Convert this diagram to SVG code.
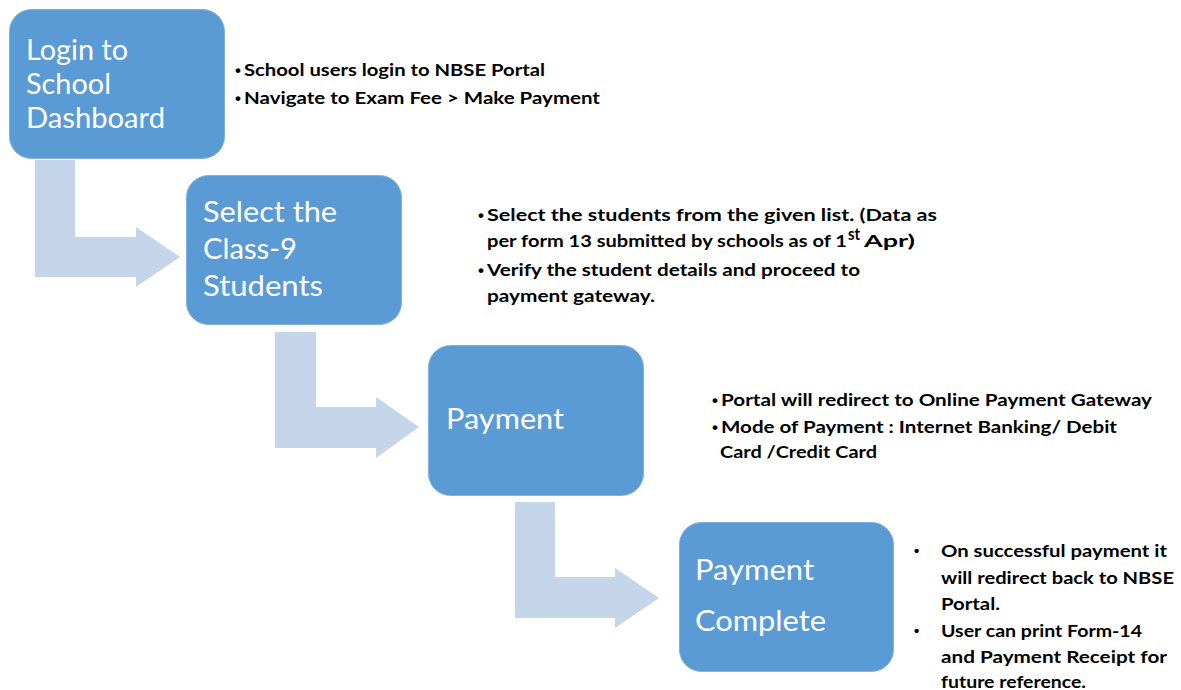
<svg xmlns="http://www.w3.org/2000/svg" width="1181" height="690" viewBox="0 0 1181 690">
<style>
.box{fill:#5b9bd5;stroke:#7fb0de;stroke-width:1}
.arrow{fill:#c5d5ea}
.title{font-family:Lato,"Liberation Sans",sans-serif;font-size:28px;fill:#ffffff}
.note{font-family:Lato,"Liberation Sans",sans-serif;font-weight:bold;font-size:17px;fill:#000000}
.dot{font-family:"Liberation Sans",sans-serif;font-weight:bold;font-size:17px;fill:#000000}
.dot2{font-family:"Liberation Sans",sans-serif;font-weight:bold;font-size:15px;fill:#000000}
</style>
<rect width="1181" height="690" fill="#ffffff"/>
<g id="connectors">
<path class="arrow" d="M35,160 H75 V237 H136 V227 L180,257 L136,287 V277 H35 Z"/>
<path class="arrow" d="M275,332 H316 V407 H376 V397 L419,427 L376,458 V448 H275 Z"/>
<path class="arrow" d="M515,502 H555 V577 H615 V568 L659,598 L615,628 V618 H515 Z"/>
</g>
<g id="node1">
<rect class="box" x="9.5" y="9.5" width="215" height="149" rx="22"/>
<text class="title" x="26" y="60" textLength="102" lengthAdjust="spacingAndGlyphs">Login to</text>
<text class="title" x="26" y="94" textLength="85" lengthAdjust="spacingAndGlyphs">School</text>
<text class="title" x="26" y="128" textLength="139" lengthAdjust="spacingAndGlyphs">Dashboard</text>
<text class="dot" x="235" y="76">•</text>
<text class="note" x="244" y="76" textLength="301" lengthAdjust="spacingAndGlyphs">School users login to NBSE Portal</text>
<text class="dot" x="235" y="104">•</text>
<text class="note" x="244" y="104" textLength="356" lengthAdjust="spacingAndGlyphs">Navigate to Exam Fee &gt; Make Payment</text>
</g>
<g id="node2">
<rect class="box" x="186.5" y="175.5" width="215" height="149" rx="22"/>
<text class="title" x="203" y="222" textLength="134" lengthAdjust="spacingAndGlyphs">Select the</text>
<text class="title" x="203" y="259" textLength="94" lengthAdjust="spacingAndGlyphs">Class-9</text>
<text class="title" x="203" y="296" textLength="120" lengthAdjust="spacingAndGlyphs">Students</text>
<text class="dot" x="478" y="221">•</text>
<text class="note" x="487" y="221" textLength="450" lengthAdjust="spacingAndGlyphs">Select the students from the given list. (Data as</text>
<text class="note" x="487" y="247" textLength="360" lengthAdjust="spacingAndGlyphs">per form 13 submitted by schools as of 1</text>
<text class="note" x="848" y="240" font-size="11" textLength="12" lengthAdjust="spacingAndGlyphs">st</text>
<text class="note" x="864" y="247" textLength="51" lengthAdjust="spacingAndGlyphs">Apr)</text>
<text class="dot" x="478" y="276">•</text>
<text class="note" x="487" y="276" textLength="373" lengthAdjust="spacingAndGlyphs">Verify the student details and proceed to</text>
<text class="note" x="487" y="302" textLength="168" lengthAdjust="spacingAndGlyphs">payment gateway.</text>
</g>
<g id="node3">
<rect class="box" x="428.5" y="345.5" width="215" height="150" rx="22"/>
<text class="title" x="446" y="429" textLength="118" lengthAdjust="spacingAndGlyphs">Payment</text>
<text class="dot" x="712" y="406">•</text>
<text class="note" x="721" y="406" textLength="431" lengthAdjust="spacingAndGlyphs">Portal will redirect to Online Payment Gateway</text>
<text class="dot" x="712" y="433">•</text>
<text class="note" x="721" y="433" textLength="396" lengthAdjust="spacingAndGlyphs">Mode of Payment : Internet Banking/ Debit</text>
<text class="note" x="720" y="458" textLength="157" lengthAdjust="spacingAndGlyphs">Card /Credit Card</text>
</g>
<g id="node4">
<rect class="box" x="679.5" y="522.5" width="214" height="149" rx="22"/>
<text class="title" x="695" y="580" textLength="119" lengthAdjust="spacingAndGlyphs">Payment</text>
<text class="title" x="695" y="631" textLength="131" lengthAdjust="spacingAndGlyphs">Complete</text>
<text class="dot2" x="914" y="556">•</text>
<text class="note" x="941" y="557" textLength="226" lengthAdjust="spacingAndGlyphs">On successful payment it</text>
<text class="note" x="941" y="584" textLength="233" lengthAdjust="spacingAndGlyphs">will redirect back to NBSE</text>
<text class="note" x="941" y="610" textLength="59" lengthAdjust="spacingAndGlyphs">Portal.</text>
<text class="dot2" x="914" y="636">•</text>
<text class="note" x="941" y="637" textLength="201" lengthAdjust="spacingAndGlyphs">User can print Form-14</text>
<text class="note" x="941" y="663" textLength="226" lengthAdjust="spacingAndGlyphs">and Payment Receipt for</text>
<text class="note" x="941" y="688" textLength="145" lengthAdjust="spacingAndGlyphs">future reference.</text>
</g>
</svg>
